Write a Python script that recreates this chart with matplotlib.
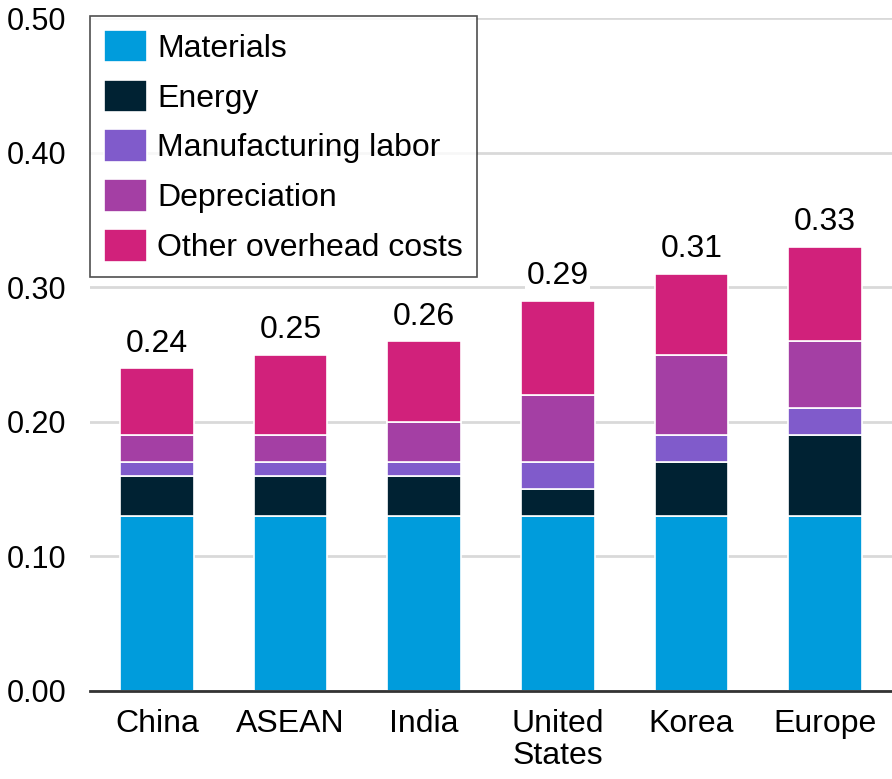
import matplotlib.pyplot as plt
import numpy as np

plt.rcParams['font.family'] = ['Liberation Sans', 'DejaVu Sans']

regions = ['China', 'ASEAN', 'India', 'United\nStates', 'Korea', 'Europe']
series = ['Materials', 'Energy', 'Manufacturing labor', 'Depreciation', 'Other overhead costs']
materials = [0.13, 0.13, 0.13, 0.13, 0.13, 0.13]
energy = [0.03, 0.03, 0.03, 0.02, 0.04, 0.06]
labor = [0.01, 0.01, 0.01, 0.02, 0.02, 0.02]
depreciation = [0.02, 0.02, 0.03, 0.05, 0.06, 0.05]
overhead = [0.05, 0.06, 0.06, 0.07, 0.06, 0.07]
totals = [0.24, 0.25, 0.26, 0.29, 0.31, 0.33]
colors = ['#009cdc', '#002233', '#805bcb', '#a43fa4', '#d1217b']

fig = plt.figure(figsize=(8.92, 7.79), dpi=100)
ax = fig.add_axes([90/892, 1-691/779, 802/892, 673/779])

x = np.arange(len(regions))
bottom = np.zeros(len(regions))
for name, vals, c in zip(series, [materials, energy, labor, depreciation, overhead], colors):
    ax.bar(x, vals, 0.55, bottom=bottom, color=c, edgecolor='white', linewidth=1.2, label=name, zorder=3)
    bottom += np.array(vals)

for xi, t in zip(x, totals):
    ax.text(xi, t + 0.007, '%.2f' % t, ha='center', va='bottom', fontsize=23, zorder=4,
            bbox=dict(facecolor='white', edgecolor='none', pad=1))

ax.set_xlim(-0.5, 5.5)
ax.set_ylim(0, 0.5)
ax.set_yticks(np.arange(0, 0.51, 0.1))
ax.set_yticklabels(['%.2f' % v for v in np.arange(0, 0.51, 0.1)], fontsize=22)
ax.set_xticks(x)
ax.set_xticklabels(regions, fontsize=23, linespacing=1.1)
ax.tick_params(axis='x', length=0, pad=13)
ax.tick_params(axis='y', length=0, pad=17)
ax.grid(axis='y', color='#d9d9d9', linewidth=2, zorder=0)
for s in ['top', 'right', 'left']:
    ax.spines[s].set_visible(False)
ax.spines['bottom'].set_color('#333333')
ax.spines['bottom'].set_linewidth(2)
ax.spines['bottom'].set_zorder(5)

leg = ax.legend(loc='upper left', bbox_to_anchor=(0, 1.003), fontsize=23, frameon=True, fancybox=False,
                handlelength=1.35, handleheight=1.2, handletextpad=0.33, labelspacing=0.49,
                borderpad=0.43, borderaxespad=0)
leg.get_frame().set_edgecolor('#222222')
leg.get_frame().set_linewidth(1.2)
leg.set_zorder(6)

fig.savefig('out.png', dpi=100)
